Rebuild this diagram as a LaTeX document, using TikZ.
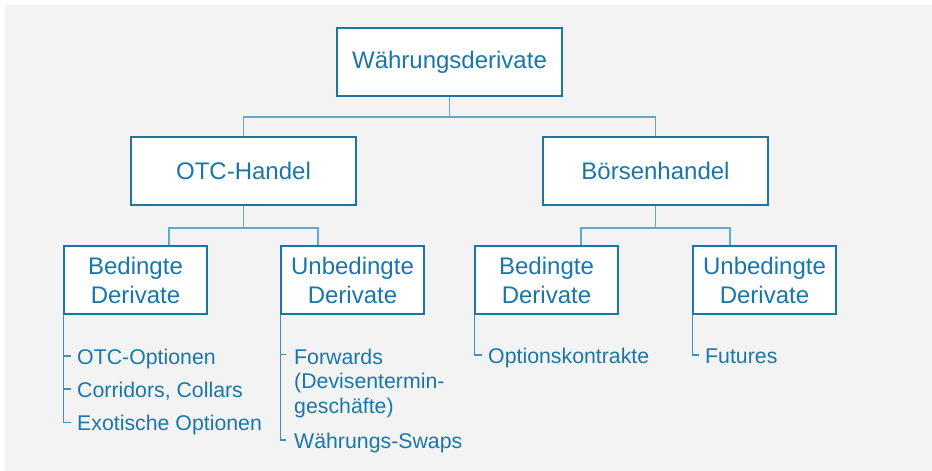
\documentclass[tikz,border=0pt]{standalone}
\usepackage{fontspec}
\setmainfont{Liberation Sans}
\usetikzlibrary{calc}
\definecolor{bg}{HTML}{F3F3F3}
\definecolor{dblue}{HTML}{1B76A8}
\definecolor{lblue}{HTML}{63AACA}
\definecolor{tblue}{HTML}{3F8FBC}
\begin{document}
\begin{tikzpicture}[x=1pt,y=-1pt,
  box/.style={draw=dblue, line width=1.6pt, fill=white, text=dblue,
    font=\fontsize{24}{29}\selectfont, align=center, inner sep=0pt},
  bigbox/.style={box, minimum width=225pt, minimum height=68pt},
  smallbox/.style={box, minimum width=143pt, minimum height=68pt},
  conn/.style={draw=lblue, line width=1.6pt},
  tree/.style={draw=tblue, line width=1.2pt},
  item/.style={text=dblue, font=\fontsize{21.3}{24.5}\selectfont, inner sep=0pt, align=left},
  sitem/.style={item, anchor=west, text height=16pt, text depth=0pt}]
\useasboundingbox (0,0) rectangle (932,471);
\fill[bg] (5,5) rectangle (932,471);

% boxes
\node[bigbox] (top) at (449.5,62) {Währungsderivate};
\node[bigbox] (otc) at (243.5,171) {OTC-Handel};
\node[bigbox] (boe) at (655.5,171) {Börsenhandel};
\node[smallbox] (ob) at (135.5,280) {Bedingte\\Derivate};
\node[smallbox] (ou) at (352.5,280) {Unbedingte\\Derivate};
\node[smallbox] (bb) at (546.5,280) {Bedingte\\Derivate};
\node[smallbox] (bu) at (764.5,280) {Unbedingte\\Derivate};

% connectors
\coordinate (j1) at (449.5,117);
\coordinate (j2) at (243.5,228);
\coordinate (j3) at (655.5,228);
\coordinate (obin) at ($(ob.north west)+(106,0)$);
\coordinate (ouin) at ($(ou.north west)+(38,0)$);
\coordinate (bbin) at ($(bb.north west)+(107,0)$);
\coordinate (buin) at ($(bu.north west)+(38,0)$);
\draw[conn] (top.south) -- (j1);
\draw[conn] (otc.north) |- (j1) -| (boe.north);
\draw[conn] (otc.south) -- (j2);
\draw[conn] (obin) |- (j2) -| (ouin);
\draw[conn] (boe.south) -- (j3);
\draw[conn] (bbin) |- (j3) -| (buin);

% items
\node[sitem] (i1) at (77,356) {OTC-Optionen};
\node[sitem] (i2) at (77,389) {Corridors, Collars};
\node[sitem] (i3) at (77,422.5) {Exotische Optionen};
\node[item, anchor=north west] (f1) at (294,348.7) {Forwards\\(Devisentermin-\\geschäfte)};
\node[sitem] (f2) at (294,440) {Währungs-Swaps};
\node[sitem] (k1) at (488,355) {Optionskontrakte};
\node[sitem] (u1) at (705,355) {Futures};

% item trees
\draw[tree] (ob.south west) -- (i3.west -| ob.south west) -- ++(8,0);
\draw[tree] (i1.west -| ob.south west) -- ++(8,0);
\draw[tree] (i2.west -| ob.south west) -- ++(8,0);
\coordinate (f1t) at ($(f1.north west)+(0,5.5)$);
\draw[tree] (ou.south west) -- (f2.west -| ou.south west) -- ++(6,0);
\draw[tree] (f1t -| ou.south west) -- ++(6,0);
\draw[tree] (bb.south west) -- (k1.west -| bb.south west) -- ++(8,0);
\draw[tree] (bu.south west) -- (u1.west -| bu.south west) -- ++(7,0);
\end{tikzpicture}
\end{document}
